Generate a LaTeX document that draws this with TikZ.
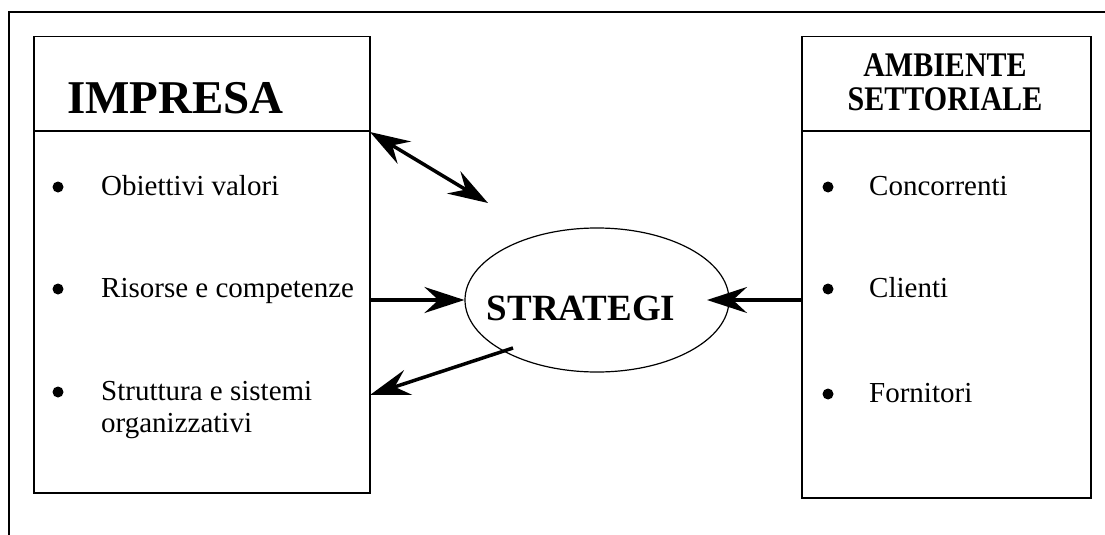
\documentclass[tikz,border=0pt]{standalone}
\usepackage{fontspec}
\setmainfont{Liberation Serif}
\usetikzlibrary{arrows.meta,shapes.geometric}
\begin{document}
\begin{tikzpicture}[x=1pt,y=-1pt,
  boxframe/.style={draw,line width=1.5pt,rectangle,inner sep=0pt,anchor=north west},
  itemtext/.style={anchor=base west,inner sep=0pt,font=\fontsize{29}{32}\selectfont,align=left},
  titletext/.style={anchor=base,inner sep=0pt,font=\fontsize{30}{28}\selectfont\bfseries},
  dot/.style={circle,fill,inner sep=0pt,minimum size=11pt},
  bigarrow/.style={line width=3.5pt,-{Stealth[length=40pt,width=26pt,inset=14pt]}},
  dblarrow/.style={line width=3.5pt,{Stealth[length=40pt,width=26pt,inset=14pt]}-{Stealth[length=40pt,width=26pt,inset=14pt]}}]
\useasboundingbox (0,0) rectangle (1105,535);

% outer frame (top and left edges)
\draw[line width=1.5pt] (1105,12) -- (9,12) -- (9,535);

% company box
\node[boxframe,minimum width=336pt,minimum height=456pt] (imp) at (33,36) {};
\coordinate (impL) at (33,131);
\coordinate (impR) at (369,131);
\draw[line width=1.5pt] (impL) -- (impR);
\node[anchor=base west,inner sep=0pt,font=\fontsize{47}{50}\selectfont\bfseries] (impT) at (67,113) {IMPRESA};

\node[dot] (b1) at (58,187) {};
\node[itemtext] (t1) at (101,195) {Obiettivi valori};
\node[dot] (b2) at (58,289) {};
\node[itemtext] (t2) at (101,297) {Risorse e competenze};
\node[dot] (b3) at (58,392) {};
\node[itemtext] (t3) at (101,400) {Struttura e sistemi};
\node[itemtext] (t3b) at (101,432) {organizzativi};

% sector environment box
\node[boxframe,minimum width=289pt,minimum height=461pt] (amb) at (801,36) {};
\coordinate (ambL) at (801,131);
\coordinate (ambR) at (1090,131);
\draw[line width=1.5pt] (ambL) -- (ambR);
\node[titletext] (ambT1) at (945,77) {\scalebox{1}[1.15]{AMBIENTE}};
\node[titletext] (ambT2) at (945,110) {\scalebox{1}[1.15]{SETTORIALE}};

\node[dot] (c1) at (828,187) {};
\node[itemtext] (u1) at (869,195) {Concorrenti};
\node[dot] (c2) at (828,289) {};
\node[itemtext] (u2) at (869,297) {Clienti};
\node[dot] (c3) at (828,394) {};
\node[itemtext] (u3) at (869,402) {Fornitori};

% strategy ellipse
\node[draw,ellipse,line width=1.2pt,minimum width=264pt,minimum height=144pt,inner sep=0pt] (str) at (597,300) {};
\node[anchor=base,inner sep=0pt,font=\fontsize{37}{40}\selectfont\bfseries] (strT) at (581,320) {STRATEGI};

% connectors
\coordinate (dA) at (370,132);
\coordinate (dB) at (488,203);
\draw[dblarrow] (dA) -- (dB);

\coordinate (rIn) at (369,300);
\draw[bigarrow] (rIn) -- (str.west);

\coordinate (cOut) at (801,300);
\coordinate (cTip) at (707,300);
\draw[bigarrow] (cOut) -- (cTip);

\coordinate (sOut) at (513,348);
\coordinate (sTip) at (370,395);
\draw[bigarrow] (sOut) -- (sTip);
\end{tikzpicture}
\end{document}
